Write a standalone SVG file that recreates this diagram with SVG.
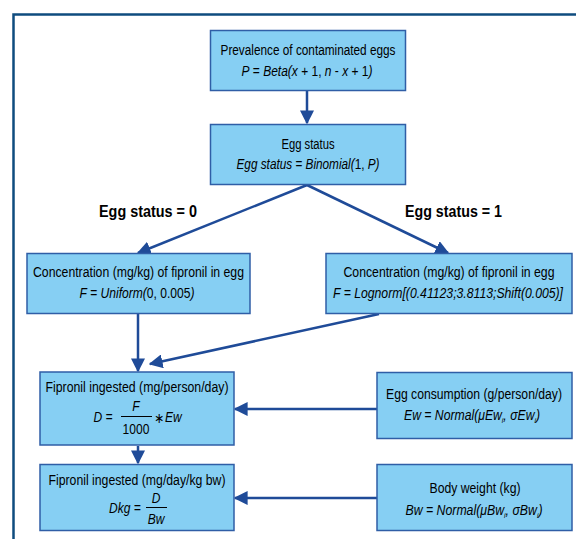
<svg xmlns="http://www.w3.org/2000/svg" width="576" height="539" viewBox="0 0 576 539">
<defs>
<style>
.box{fill:#86cff3;stroke:#2f5ea6;stroke-width:1.5}
.t{font-family:"Liberation Sans","DejaVu Sans",sans-serif;font-size:14.5px;fill:#000;text-anchor:middle}
.s{text-anchor:start}
.i{font-style:italic}
.lbl{font-family:"Liberation Sans","DejaVu Sans",sans-serif;font-size:16px;font-weight:bold;fill:#000}
.c{stroke:#1f4b98;stroke-width:2.5;fill:none;marker-end:url(#ah)}
.fr{stroke:#0f4c7f;stroke-width:2.5;fill:none}
.fl{stroke:#000;stroke-width:1}
</style>
<marker id="ah" markerUnits="userSpaceOnUse" markerWidth="14" markerHeight="14" viewBox="0 0 10 10" refX="9" refY="5" orient="auto">
<path d="M0,0 L10,5 L0,10 z" fill="#1f4b98"/>
</marker>
</defs>
<rect width="576" height="539" fill="#fff"/>
<path class="fr" d="M13.5,540 V14.5 H577"/>

<g id="connectors">
<line class="c" x1="307" y1="91" x2="307" y2="123"/>
<line class="c" x1="307" y1="185" x2="138" y2="253"/>
<line class="c" x1="307" y1="185" x2="448" y2="253"/>
<line class="c" x1="138" y1="314" x2="138" y2="371"/>
<line class="c" x1="379" y1="314" x2="150" y2="364"/>
<line class="c" x1="377" y1="409" x2="235" y2="409"/>
<line class="c" x1="138" y1="446" x2="138" y2="463"/>
<line class="c" x1="377" y1="498" x2="235" y2="498"/>
</g>

<g id="prevalence">
<rect class="box" x="210.5" y="30.5" width="195" height="60"/>
<text class="t" transform="translate(308,55) scale(0.83,1)" textLength="210.8" lengthAdjust="spacingAndGlyphs">Prevalence of contaminated eggs</text>
<text class="t" transform="translate(307,76) scale(0.83,1)" textLength="157.8" lengthAdjust="spacingAndGlyphs"><tspan class="i">P</tspan> = <tspan class="i">Beta(x</tspan> + 1, <tspan class="i">n</tspan> - <tspan class="i">x</tspan> + 1<tspan class="i">)</tspan></text>
</g>

<g id="eggstatus">
<rect class="box" x="210.5" y="124.5" width="195" height="60"/>
<text class="t" transform="translate(308,149) scale(0.83,1)" textLength="63.9" lengthAdjust="spacingAndGlyphs">Egg status</text>
<text class="t" transform="translate(308,169) scale(0.83,1)" textLength="172.3" lengthAdjust="spacingAndGlyphs"><tspan class="i">Egg status</tspan> = <tspan class="i">Binomial(</tspan>1, <tspan class="i">P)</tspan></text>
</g>

<g id="label0"><text class="lbl" transform="translate(99,217) scale(0.9,1)" textLength="108.9" lengthAdjust="spacingAndGlyphs">Egg status = 0</text></g>
<g id="label1"><text class="lbl" transform="translate(405,217) scale(0.9,1)" textLength="107.8" lengthAdjust="spacingAndGlyphs">Egg status = 1</text></g>

<g id="conc0">
<rect class="box" x="27" y="253.5" width="223" height="60"/>
<text class="t" transform="translate(138.5,277) scale(0.83,1)" textLength="254.2" lengthAdjust="spacingAndGlyphs">Concentration (mg/kg) of fipronil in egg</text>
<text class="t" transform="translate(137,298) scale(0.83,1)" textLength="138.6" lengthAdjust="spacingAndGlyphs"><tspan class="i">F</tspan> = <tspan class="i">Uniform(</tspan>0, 0.005<tspan class="i">)</tspan></text>
</g>

<g id="conc1">
<rect class="box" x="326" y="253.5" width="246" height="60"/>
<text class="t" transform="translate(449,277) scale(0.83,1)" textLength="254.2" lengthAdjust="spacingAndGlyphs">Concentration (mg/kg) of fipronil in egg</text>
<text class="t i" transform="translate(448,298) scale(0.83,1)" textLength="277.1" lengthAdjust="spacingAndGlyphs">F = Lognorm[(0.41123;3.8113;Shift(0.005)]</text>
</g>

<g id="ingested">
<rect class="box" x="40" y="372" width="194" height="73"/>
<text class="t" transform="translate(137,392) scale(0.83,1)" textLength="220.5" lengthAdjust="spacingAndGlyphs">Fipronil ingested (mg/person/day)</text>
<text class="t i" transform="translate(103,422) scale(0.83,1)">D =</text>
<text class="t i" transform="translate(136,411) scale(0.83,1)">F</text>
<line class="fl" x1="121" y1="416.5" x2="152" y2="416.5"/>
<text class="t" transform="translate(136,434) scale(0.83,1)">1000</text>
<text class="t s" transform="translate(154,423) scale(0.83,1)">∗</text>
<text class="t s i" transform="translate(165,422) scale(0.83,1)">Ew</text>
</g>

<g id="consumption">
<rect class="box" x="377" y="372.5" width="195" height="66"/>
<text class="t" transform="translate(474,399) scale(0.83,1)" textLength="212" lengthAdjust="spacingAndGlyphs">Egg consumption (g/person/day)</text>
<text class="t i" transform="translate(472,420) scale(0.83,1)" textLength="163.9" lengthAdjust="spacingAndGlyphs">Ew = Normal(μEw<tspan font-size="8" dy="3">i</tspan><tspan dy="-3">, σEw</tspan><tspan font-size="8" dy="3">i</tspan><tspan dy="-3">)</tspan></text>
</g>

<g id="ingestedkg">
<rect class="box" x="40" y="464.5" width="194" height="66"/>
<text class="t" transform="translate(137,485) scale(0.83,1)" textLength="213.3" lengthAdjust="spacingAndGlyphs">Fipronil ingested (mg/day/kg bw)</text>
<text class="t i" transform="translate(125,513) scale(0.83,1)">Dkg =</text>
<text class="t i" transform="translate(156,503) scale(0.83,1)">D</text>
<line class="fl" x1="146" y1="507.5" x2="167" y2="507.5"/>
<text class="t i" transform="translate(156,524) scale(0.83,1)">Bw</text>
</g>

<g id="bodyweight">
<rect class="box" x="377" y="464.5" width="195" height="66"/>
<text class="t" transform="translate(475,493) scale(0.83,1)" textLength="109.6" lengthAdjust="spacingAndGlyphs">Body weight (kg)</text>
<text class="t i" transform="translate(474,515) scale(0.83,1)" textLength="165.1" lengthAdjust="spacingAndGlyphs">Bw = Normal(μBw<tspan font-size="8" dy="3">i</tspan><tspan dy="-3">, σBw</tspan><tspan font-size="8" dy="3">i</tspan><tspan dy="-3">)</tspan></text>
</g>
</svg>
